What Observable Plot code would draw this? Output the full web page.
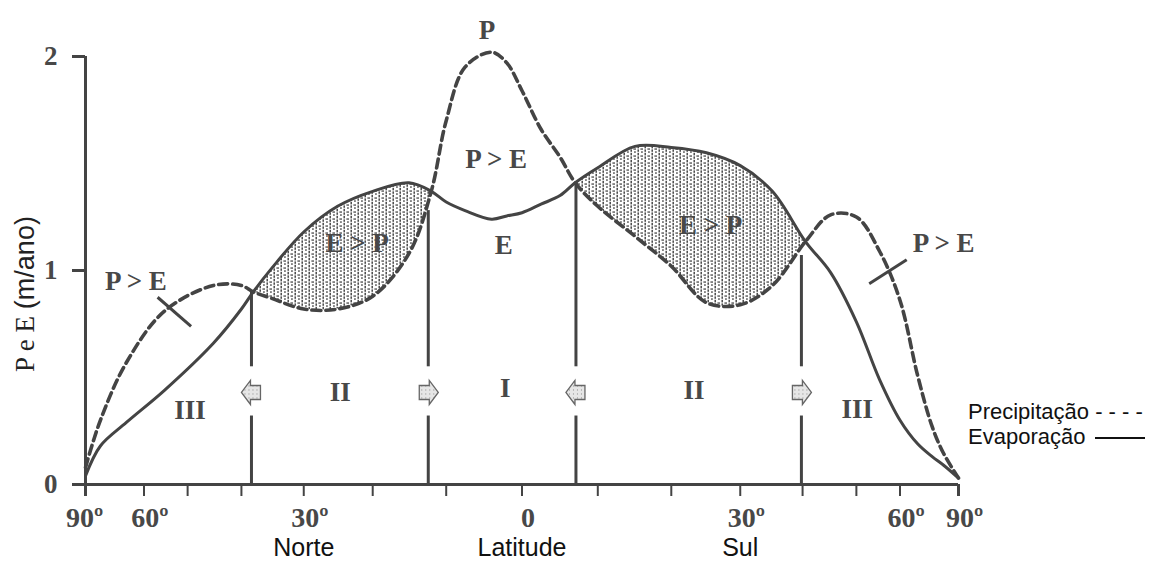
<!DOCTYPE html>
<html>
<head>
<meta charset="utf-8">
<script src="https://cdn.jsdelivr.net/npm/d3@7"></script>
<script src="https://cdn.jsdelivr.net/npm/@observablehq/plot@0.6"></script>
<style>
  html, body { margin: 0; padding: 0; background: #fff; }
  #wrap { position: relative; width: 1153px; height: 563px; overflow: hidden; }
  #ytitle { position: absolute; left: 25px; top: 294px; transform: translate(-50%, -50%) rotate(-90deg);
            white-space: nowrap; font-size: 27px; color: #222; }
  #ytitle .s { font-family: "Liberation Serif", serif; }
  #ytitle .a { font-family: "Liberation Sans", Arial, sans-serif; }
  #legend { position: absolute; left: 968px; top: 399px; font-family: "Liberation Sans", Arial, sans-serif;
            font-size: 22px; line-height: 25px; color: #111; white-space: nowrap; }
  #legend .ln { display: inline-block; width: 50px; height: 2px; background: #111; vertical-align: middle; margin-left: 10px; }
</style>
</head>
<body>
<div id="wrap">
  <div id="chart"></div>
  <div id="ytitle"><span class="s">P e E </span><span class="a">(m/ano)</span></div>
  <div id="legend">
    <div>Precipitação - - - -</div>
    <div>Evaporação<span class="ln"></span></div>
  </div>
</div>
<script>
// Latitude (degrees, north positive) and annual precipitation / evaporation (m/ano)
const lat    = [90, 75, 65, 55, 45, 40, 38, 35, 30, 25, 20, 15, 12, 10, 7.5, 4, 2, 0, -2.5, -5, -7, -10, -15, -20, -25, -30, -35, -40.5, -45, -50, -55, -60, -65, -70, -75, -90];
const precip = [0.08, 0.30, 0.57, 0.81, 0.93, 0.93, 0.90, 0.87, 0.82, 0.82, 0.88, 1.08, 1.37, 1.70, 1.95, 2.02, 1.97, 1.84, 1.66, 1.53, 1.41, 1.30, 1.16, 1.02, 0.85, 0.84, 0.93, 1.135, 1.26, 1.25, 1.09, 0.86, 0.51, 0.27, 0.145, 0.03];
const evap   = [0.04, 0.18, 0.29, 0.44, 0.66, 0.82, 0.90, 1.01, 1.18, 1.30, 1.37, 1.41, 1.37, 1.32, 1.28, 1.24, 1.255, 1.27, 1.31, 1.35, 1.41, 1.48, 1.58, 1.575, 1.55, 1.49, 1.37, 1.135, 0.99, 0.76, 0.49, 0.30, 0.19, 0.13, 0.09, 0.03];

// E > P (shaded) bands: [from, to] latitudes
const shadeBands = [[38, 12], [-7, -40.5]];

// zone boundaries between cells
const zoneLat = [38.3, 12.4, -7.1, -39.8];
const zoneTop = [0.905, 1.28, 1.41, 1.07];
const zoneArrow = ["left", "right", "left", "right"];

// axis ticks
const xTickLat = [90, 60, 50, 40, 30, 20, 10, 0, -10, -20, -30, -40, -50, -60, -90];
const xLabelText = ["90º", "60º", "30º", "0", "30º", "60º", "90º"];
const xLabelLat  = [90, 60, 30, 0, -30, -60, -90];
const yTicks = [0, 1, 2];
const hemiText = ["Norte", "Latitude", "Sul"];
const hemiLat  = [30, 0, -30];

// annotations in the plot (latitude, value)
const noteText = ["P > E", "P > E", "E > P", "E > P", "P > E", "P", "E", "III", "II", "I", "II", "III"];
const noteLat  = [62.2, -75, 22.2, -25.6, 3.4, 4.6, 2.4, 49.5, 24.6, 2.2, -23.2, -50.2];
const noteVal  = [0.95, 1.126, 1.126, 1.21, 1.52, 2.12, 1.117, 0.346, 0.43, 0.449, 0.44, 0.35];

// short pointer strokes across the precipitation curve
const ptrLat1 = [56.6, -52.7], ptrVal1 = [0.875, 0.938];
const ptrLat2 = [49.3, -61.8], ptrVal2 = [0.739, 1.05];

const rad = Math.PI / 180;
const sx = l => Math.sin(l * rad);

const rows = lat.map((l, i) => ({lat: l, P: precip[i], E: evap[i],
  band: shadeBands.findIndex(([a, b]) => l <= a && l >= b)}));
const zones = zoneLat.map((l, i) => ({lat: l, top: zoneTop[i], dir: zoneArrow[i]}));
const labels = xLabelText.map((t, i) => ({t, lat: xLabelLat[i]}));
const notes = noteText.map((t, i) => ({t, lat: noteLat[i], v: noteVal[i]}));
const ptrs = ptrLat1.map((l, i) => ({a: l, av: ptrVal1[i], b: ptrLat2[i], bv: ptrVal2[i]}));
const hemi = hemiText.map((t, i) => ({t, lat: hemiLat[i]}));

const arrowLeft = {draw(c) { c.moveTo(-10, 0); c.lineTo(-1, -12); c.lineTo(-1, -7); c.lineTo(9, -7); c.lineTo(9, 7); c.lineTo(-1, 7); c.lineTo(-1, 12); c.closePath(); }};
const arrowRight = {draw(c) { c.moveTo(10, 0); c.lineTo(1, -12); c.lineTo(1, -7); c.lineTo(-9, -7); c.lineTo(-9, 7); c.lineTo(1, 7); c.lineTo(1, 12); c.closePath(); }};

const ink = "#444";
const labInk = "#484848";
const serif = "Liberation Serif, Times New Roman, serif";
const sans = "Liberation Sans, Arial, sans-serif";
const curve = "catmull-rom";

const svg = Plot.plot({
  width: 1153, height: 563,
  x: {domain: [1, -1], range: [85, 958], axis: null},
  y: {domain: [0, 2], range: [484, 56], axis: null},
  marks: [
    Plot.areaY(rows, {filter: d => d.band >= 0, x: d => sx(d.lat), y1: "P", y2: "E", z: "band",
      curve, fill: "url(#stip)"}),
    // zone boundaries (with gap for arrow)
    Plot.ruleX(zones, {x: d => sx(d.lat), y1: "top", y2: 0.55, stroke: ink, strokeWidth: 3}),
    Plot.ruleX(zones, {x: d => sx(d.lat), y1: 0.32, y2: 0, stroke: ink, strokeWidth: 3}),
    Plot.dot(zones, {filter: d => d.dir === "left", x: d => sx(d.lat), y: 0.43, symbol: arrowLeft, r: 4,
      fill: "url(#stipL)", stroke: "#666", strokeWidth: 1.3}),
    Plot.dot(zones, {filter: d => d.dir === "right", x: d => sx(d.lat), y: 0.43, symbol: arrowRight, r: 4,
      fill: "url(#stipL)", stroke: "#666", strokeWidth: 1.3}),
    // curves
    Plot.line(rows, {x: d => sx(d.lat), y: "P", curve, stroke: ink, strokeWidth: 3.6, strokeDasharray: "9,5"}),
    Plot.line(rows, {x: d => sx(d.lat), y: "E", curve, stroke: ink, strokeWidth: 3}),
    // pointer strokes
    Plot.link(ptrs, {x1: d => sx(d.a), y1: "av", x2: d => sx(d.b), y2: "bv", stroke: ink, strokeWidth: 3}),
    // axes
    Plot.ruleX([1], {x: d => d, y1: 2, y2: 0, insetBottom: -12, stroke: ink, strokeWidth: 3}),
    Plot.ruleX([-1], {x: d => d, y1: 0, y2: 0, insetBottom: -12, stroke: ink, strokeWidth: 3}),
    Plot.ruleY([0], {y: d => d, x1: 1, x2: -1, insetLeft: -13, stroke: ink, strokeWidth: 3}),
    Plot.ruleY([1, 2], {y: d => d, x1: 1, x2: 1, insetLeft: -13, stroke: ink, strokeWidth: 3}),
    Plot.ruleX(xTickLat, {x: d => sx(d), y1: 0, y2: 0, insetBottom: -12, stroke: ink, strokeWidth: 2}),
    Plot.text(yTicks, {x: 1, y: d => d, text: d => String(d), dx: -28, textAnchor: "end",
      fontFamily: serif, fontWeight: "bold", fontSize: 27, fill: labInk}),
    Plot.text(labels, {filter: d => d.lat !== 90, x: d => sx(d.lat), y: 0, text: "t", dy: 34, dx: 6,
      fontFamily: serif, fontWeight: "bold", fontSize: 28, fill: labInk}),
    Plot.text(labels, {filter: d => d.lat === 90, x: d => sx(d.lat), y: 0, text: "t", dy: 34, dx: -1,
      fontFamily: serif, fontWeight: "bold", fontSize: 28, fill: labInk}),
    Plot.text(hemi, {x: d => sx(d.lat), y: 0, text: "t", dy: 63,
      dx: 0, fontFamily: sans, fontSize: 25, fill: "#111"}),
    // annotations
    Plot.text(notes, {x: d => sx(d.lat), y: "v", text: "t", fontFamily: serif, fontWeight: "bold", fontSize: 27, fill: labInk})
  ]
});

d3.select(svg).insert("defs", ":first-child").html(`
  <pattern id="stip" patternUnits="userSpaceOnUse" width="7" height="7">
    <rect x="0.5" y="0" width="1.4" height="1.4" fill="#3c3c3c"/>
    <rect x="0.5" y="2.4" width="1.4" height="2.4" fill="#3c3c3c"/>
    <rect x="0.5" y="5.8" width="1.4" height="1.2" fill="#3c3c3c"/>
    <rect x="3.4" y="1.4" width="2.6" height="1.3" fill="#4a4a4a"/>
    <rect x="4.2" y="4.3" width="1.5" height="1.5" fill="#3c3c3c"/>
  </pattern>
  <pattern id="stipL" patternUnits="userSpaceOnUse" width="4" height="4">
    <rect width="4" height="4" fill="#e6e6e6"/>
    <rect x="1" y="1" width="1" height="1" fill="#888"/>
  </pattern>`);

document.getElementById("chart").appendChild(svg);
</script>
</body>
</html>
